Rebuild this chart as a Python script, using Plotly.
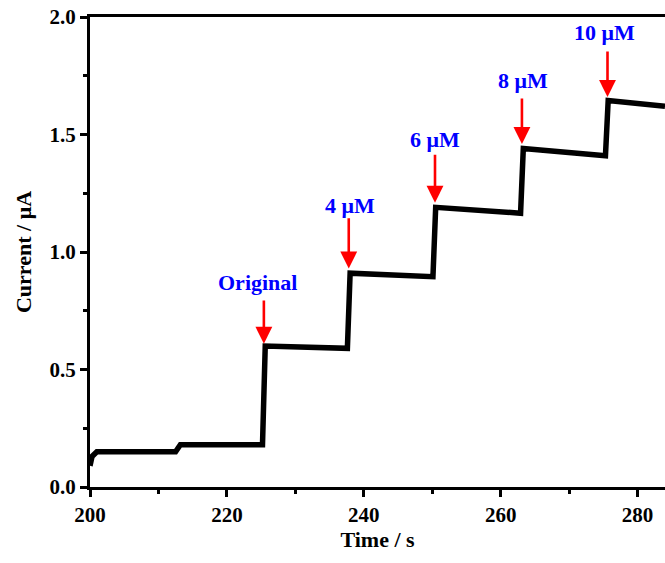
import plotly.graph_objects as go

time_s = [200.0, 200.3, 201.0, 212.5, 213.2, 225.2, 225.6, 237.6, 238.0, 250.1, 250.5, 262.9, 263.3, 275.3, 275.7, 284.0]
current_uA = [0.09, 0.13, 0.15, 0.15, 0.18, 0.18, 0.60, 0.59, 0.91, 0.895, 1.19, 1.165, 1.44, 1.41, 1.645, 1.62]

labels = ["Original", "4 μM", "6 μM", "8 μM", "10 μM"]
arrow_x = [225.4, 237.8, 250.4, 263.1, 275.6]
arrow_tip_y = [0.61, 0.93, 1.21, 1.46, 1.66]
arrow_tail_y = [0.80, 1.15, 1.42, 1.66, 1.86]
label_x = [224.4, 238.0, 250.4, 263.2, 275.2]
label_y = [0.87, 1.20, 1.48, 1.73, 1.935]

FONT = "Liberation Serif"

fig = go.Figure()
fig.add_trace(go.Scatter(x=time_s, y=current_uA, mode="lines",
                         line=dict(color="black", width=5.5), showlegend=False))

annotations = []
for ax_, tip, tail in zip(arrow_x, arrow_tip_y, arrow_tail_y):
    annotations.append(dict(x=ax_, y=tip, ax=ax_, ay=tail, xref="x", yref="y",
                            axref="x", ayref="y", text="", showarrow=True,
                            arrowhead=2, arrowsize=1.3, arrowwidth=2.6,
                            arrowcolor="red", standoff=0))
for lab, lx, ly in zip(labels, label_x, label_y):
    annotations.append(dict(x=lx, y=ly, xref="x", yref="y", text=lab,
                            showarrow=False,
                            font=dict(family=FONT, size=22, color="#0000ff", weight="bold")))

fig.update_layout(
    width=665, height=563,
    margin=dict(l=90, r=0, t=17, b=76),
    plot_bgcolor="white", paper_bgcolor="white",
    annotations=annotations,
    font=dict(family=FONT, size=21, color="black"),
    xaxis=dict(range=[200, 284], dtick=20, tick0=200, showgrid=False, zeroline=False,
               showline=True, linecolor="black", linewidth=3, mirror=True,
               ticks="outside", ticklen=7, tickwidth=2.5, tickcolor="black",
               minor=dict(dtick=10, ticks="outside", ticklen=4, tickwidth=2.5, tickcolor="black"),
               tickfont=dict(family=FONT, size=21, weight="bold"),
               title=dict(text="Time / s", font=dict(family=FONT, size=22, weight="bold"), standoff=6)),
    yaxis=dict(range=[0, 2.0], dtick=0.5, tickformat=".1f", showgrid=False, zeroline=False,
               showline=True, linecolor="black", linewidth=3,
               ticks="outside", ticklen=7, tickwidth=2.5, tickcolor="black",
               minor=dict(dtick=0.25, ticks="outside", ticklen=4, tickwidth=2.5, tickcolor="black"),
               tickfont=dict(family=FONT, size=21, weight="bold"),
               title=dict(text="Current / μA", font=dict(family=FONT, size=22, weight="bold"), standoff=12)),
)

fig.write_html("out.html")
